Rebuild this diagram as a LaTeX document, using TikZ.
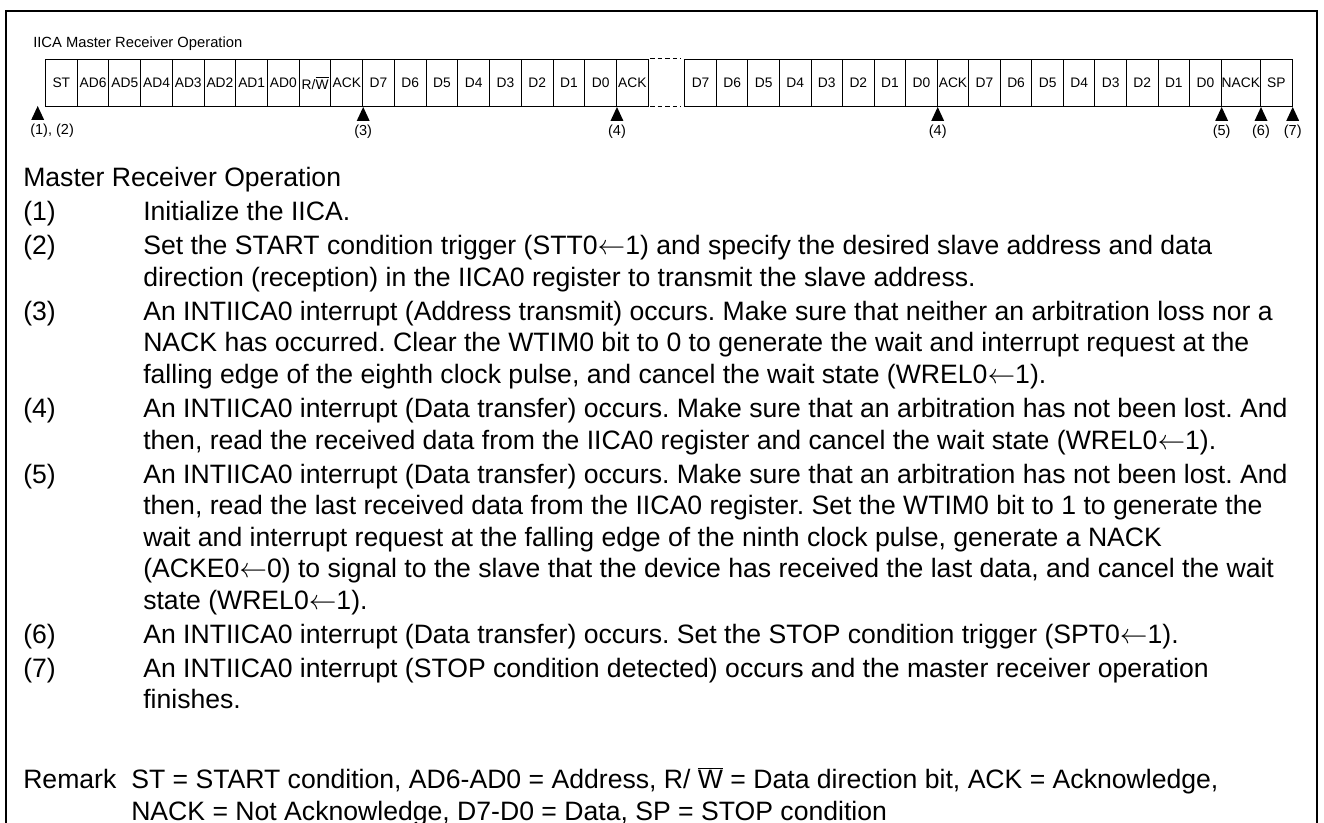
\documentclass[tikz,border=0pt]{standalone}
\usepackage{fontspec}
\setmainfont{Liberation Sans}
\newcommand\bodyfont{\fontsize{19.95}{24}\selectfont}
\newcommand\cellfont{\fontsize{10.35}{12}\selectfont}
\newcommand\titlefont{\fontsize{11.06}{13}\selectfont}
\newcommand\lblfont{\fontsize{10.9}{13}\selectfont}
\newcommand\ovW{$\overline{\hbox{W}}$}
\newcommand\la{$\leftarrow$}
\frenchspacing
\begin{document}
\begin{tikzpicture}[x=0.75pt,y=-0.75pt,
  cell/.style={draw,line width=0.75pt,inner sep=0pt,minimum height=35.25pt,anchor=north west,font=\cellfont},
  txt/.style={anchor=base west,inner sep=0pt,font=\bodyfont},
  lbl/.style={anchor=base,inner sep=0pt,font=\lblfont},
  tri/.style={fill=black},
  gapline/.style={line width=0.75pt,dash pattern=on 3.5pt off 2.2pt}]
\useasboundingbox (0,0) rectangle (1324,823);
% frame
\coordinate (f1) at (6,840);
\coordinate (f2) at (6,11);
\coordinate (f3) at (1317,11);
\coordinate (f4) at (1317,840);
\draw[line width=1.5pt] (f1) -- (f2) -- (f3) -- (f4);
% title
\node[anchor=base west,inner sep=0pt,font=\titlefont] (title) at (33,48) {IICA Master Receiver Operation};
% cells group 1
\foreach \t [count=\i from 0] in {ST,AD6,AD5,AD4,AD3,AD2,AD1,AD0,{R/\ovW},ACK,D7,D6,D5,D4,D3,D2,D1,D0,ACK}
  \node[cell,minimum width=31.72*0.75pt] (a\i) at ({45+31.72*\i},59) {\t};
% cells group 2
\foreach \t [count=\i from 0] in {D7,D6,D5,D4,D3,D2,D1,D0,ACK,D7,D6,D5,D4,D3,D2,D1,D0}
  \node[cell,minimum width=31.55*0.75pt] (b\i) at ({684.3+31.55*\i},59) {\t};
\node[cell,minimum width=39.3*0.75pt] (c0) at (1220.7,59) {NACK};
\node[cell,minimum width=31.7*0.75pt] (c1) at (1260,59) {SP};
% dashed gap
\draw[gapline] ([xshift=1pt]a18.north east) -- ([xshift=-2.5pt]b0.north west);
\draw[gapline] ([xshift=1pt]a18.south east) -- ([xshift=-2.5pt]b0.south west);
% triangles
\coordinate (p12) at (37.7,106);
\foreach \c in {p12,a9.south east,a17.south east,b7.south east,b16.south east,c0.south east,c1.south east}
  \fill[tri] (\c) -- ++(-6.5,14) -- ++(13,0) -- cycle;
% labels
\node[anchor=base west,inner sep=0pt,font=\lblfont] (l12) at (30,135) {(1), (2)};
\node[lbl] (l3) at ([yshift=-21.75pt]a9.south east) {(3)};
\node[lbl] (l4) at ([yshift=-21.75pt]a17.south east) {(4)};
\node[lbl] (l4b) at ([yshift=-21.75pt]b7.south east) {(4)};
\node[lbl] (l5) at ([yshift=-21.75pt]b16.south east) {(5)};
\node[lbl] (l6) at ([yshift=-21.75pt]c0.south east) {(6)};
\node[lbl] (l7) at ([yshift=-21.75pt]c1.south east) {(7)};
% body
\node[txt] (hdr) at (23,187) {Master Receiver Operation};
\node[txt] (n1) at (23,221) {(1)};
\node[txt] (s1) at (143,221) {Initialize the IICA.};
\node[txt] (n2) at (23,255) {(2)};
\node[txt] (s2a) at (143,255) {Set the START condition trigger (STT0\la1) and specify the desired slave address and data};
\node[txt] (s2b) at (143,286.5) {direction (reception) in the IICA0 register to transmit the slave address.};
\node[txt] (n3) at (23,320.5) {(3)};
\node[txt] (s3a) at (143,320.5) {An INTIICA0 interrupt (Address transmit) occurs. Make sure that neither an arbitration loss nor a};
\node[txt] (s3b) at (143,352) {NACK has occurred. Clear the WTIM0 bit to 0 to generate the wait and interrupt request at the};
\node[txt] (s3c) at (143,383.5) {falling edge of the eighth clock pulse, and cancel the wait state (WREL0\la1).};
\node[txt] (n4) at (23,417.5) {(4)};
\node[txt] (s4a) at (143,417.5) {An INTIICA0 interrupt (Data transfer) occurs. Make sure that an arbitration has not been lost. And};
\node[txt] (s4b) at (143,449) {then, read the received data from the IICA0 register and cancel the wait state (WREL0\la1).};
\node[txt] (n5) at (23,483) {(5)};
\node[txt] (s5a) at (143,483) {An INTIICA0 interrupt (Data transfer) occurs. Make sure that an arbitration has not been lost. And};
\node[txt] (s5b) at (143,514.5) {then, read the last received data from the IICA0 register. Set the WTIM0 bit to 1 to generate the};
\node[txt] (s5c) at (143,546) {wait and interrupt request at the falling edge of the ninth clock pulse, generate a NACK};
\node[txt] (s5d) at (143,577.5) {(ACKE0\la0) to signal to the slave that the device has received the last data, and cancel the wait};
\node[txt] (s5e) at (143,609) {state (WREL0\la1).};
\node[txt] (n6) at (23,643) {(6)};
\node[txt] (s6) at (143,643) {An INTIICA0 interrupt (Data transfer) occurs. Set the STOP condition trigger (SPT0\la1).};
\node[txt] (n7) at (23,677) {(7)};
\node[txt] (s7a) at (143,677) {An INTIICA0 interrupt (STOP condition detected) occurs and the master receiver operation};
\node[txt] (s7b) at (143,708.5) {finishes.};
\node[txt] (rm) at (23,788) {Remark};
\node[txt] (rma) at (131,788) {ST = START condition, AD6-AD0 = Address, R/ \ovW\ = Data direction bit, ACK = Acknowledge,};
\node[txt] (rmb) at (131,820) {NACK = Not Acknowledge, D7-D0 = Data, SP = STOP condition};
\end{tikzpicture}
\end{document}
